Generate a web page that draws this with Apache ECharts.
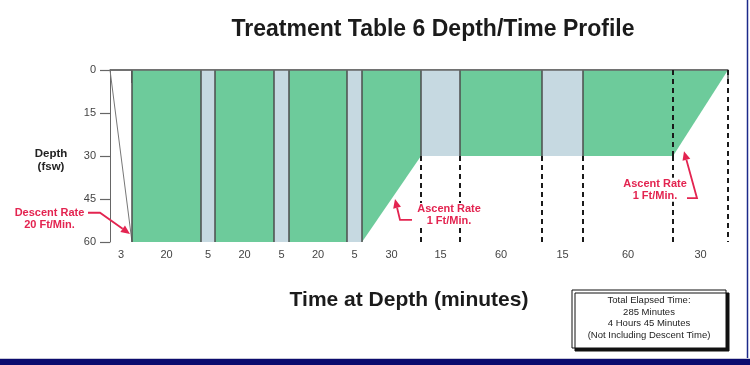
<!DOCTYPE html>
<html>
<head>
<meta charset="utf-8">
<script src="https://cdn.jsdelivr.net/npm/echarts@6/dist/echarts.min.js"></script>
<style>
  html, body { margin: 0; padding: 0; background: #fff; }
  #chart { width: 750px; height: 365px; }
</style>
</head>
<body>
<div id="chart"></div>
<script>
// Treatment Table 6 steps (time axis is drawn schematic, not to scale)
const segMinutes = [3, 20, 5, 20, 5, 20, 5, 30, 15, 60, 15, 60, 30];
// drawn span of each step along the schematic time axis
const segSpan = [22, 69, 14, 59, 15, 58, 15, 59, 39, 82, 41, 90, 55];
const segKind = ['descent', 'oxygen', 'air', 'oxygen', 'air', 'oxygen', 'air', 'ascent', 'air', 'oxygen', 'air', 'oxygen', 'ascent'];
const depthStart = [0, 60, 60, 60, 60, 60, 60, 60, 30, 30, 30, 30, 30];
const depthEnd = [60, 60, 60, 60, 60, 60, 60, 30, 30, 30, 30, 30, 0];
const depthTicks = [0, 15, 30, 45, 60];

// callouts, in axis units
const noteText = [['Descent Rate', '20 Ft/Min.'], ['Ascent Rate', '1 Ft/Min.'], ['Ascent Rate', '1 Ft/Min.']];
const noteAt = [[-60.5, 52], [339, 50.6], [545, 41.8]];
const notePath = [
  [[-22, 49.8], [-10, 49.8], [20, 57.2]],
  [[302, 52.3], [290, 52.3], [285, 45]],
  [[577, 44.7], [587, 44.7], [574, 28.3]]
];

const boxLines = ['Total Elapsed Time:', '285 Minutes', '4 Hours 45 Minutes', '(Not Including Descent Time)'];

const edges = [0];
segSpan.forEach(w => edges.push(edges[edges.length - 1] + w));
const centers = segSpan.map((w, i) => edges[i] + w / 2);

const GREEN = '#6dcb9b';
const AIR = '#c6d9e1';
const RED = '#e32450';
const FONT = '"Liberation Sans", Arial, sans-serif';

function fillOf(i) {
  if (segKind[i] === 'descent') return null;
  return segKind[i] === 'air' ? AIR : GREEN;
}

function seg(p, q, style, z2) {
  return { type: 'line', shape: { x1: p[0], y1: p[1], x2: q[0], y2: q[1] }, style: style, z2: z2 };
}

const solid = { stroke: '#4d4d4d', lineWidth: 1.5 };
const dashed = { stroke: '#1a1a1a', lineWidth: 2, lineDash: [5, 4] };

function renderProfile(params, api) {
  const i = api.value(0);
  const P = (x, d) => api.coord([x, d]);
  const x0 = edges[i], x1 = edges[i + 1];
  const kids = [];
  if (segKind[i] === 'descent') {
    kids.push(seg(P(x0, 0), P(x1, 60), { stroke: '#777', lineWidth: 1 }, 6));
  } else {
    kids.push({
      type: 'polygon',
      shape: { points: [P(x0, 0), P(x1, 0), P(x1, depthEnd[i]), P(x0, depthStart[i])] },
      style: { fill: fillOf(i) },
      z2: 1
    });
    const same = fillOf(i - 1) === fillOf(i);
    kids.push(seg(P(x0, 0), P(x0, depthStart[i]), same ? dashed : solid, same ? 8 : 6));
    if (depthStart[i] < 60) kids.push(seg(P(x0, depthStart[i]), P(x0, 60), dashed, 8));
    if (i === segKind.length - 1) kids.push(seg(P(x1, depthEnd[i]), P(x1, 60), dashed, 8));
  }
  kids.push(seg(P(x0, 0), P(x1, 0), { stroke: '#666', lineWidth: 1.5 }, 7));
  return { type: 'group', children: kids };
}

function renderNote(params, api) {
  const i = api.value(0);
  const pts = notePath[i].map(p => api.coord(p));
  const at = api.coord(noteAt[i]);
  const a = pts[pts.length - 2], b = pts[pts.length - 1];
  const ang = Math.atan2(b[1] - a[1], b[0] - a[0]);
  const len = 9, half = 4;
  const bx = b[0] - len * Math.cos(ang), by = b[1] - len * Math.sin(ang);
  const head = [
    b,
    [bx + half * Math.sin(ang), by - half * Math.cos(ang)],
    [bx - half * Math.sin(ang), by + half * Math.cos(ang)]
  ];
  const shaft = pts.slice(0, -1).concat([[bx, by]]);
  return {
    type: 'group',
    children: [
      { type: 'polyline', shape: { points: shaft }, style: { stroke: RED, lineWidth: 1.8, fill: null }, z2: 20 },
      { type: 'polygon', shape: { points: head }, style: { fill: RED }, z2: 20 },
      {
        type: 'text', z2: 19,
        style: {
          text: noteText[i].join('\n'), x: at[0], y: at[1],
          align: 'center', verticalAlign: 'middle', lineHeight: 12,
          fill: RED, font: 'bold 11px ' + FONT,
          backgroundColor: '#fff', padding: [0, 1]
        }
      }
    ]
  };
}

const chart = echarts.init(document.getElementById('chart'));

const option = {
  animation: false,
  backgroundColor: '#fff',
  grid: { left: 110, right: 22, top: 70, bottom: 123, outerBoundsMode: 'none' },
  xAxis: {
    type: 'value', min: 0, max: edges[edges.length - 1],
    splitLine: { show: false },
    axisLine: { lineStyle: { color: '#777', width: 1.5 } },
    axisTick: { show: true, length: 13, customValues: edges.slice(1), lineStyle: { color: '#555', width: 1.5 } },
    axisLabel: {
      customValues: centers, margin: 7, color: '#444', fontSize: 11, fontFamily: FONT,
      formatter: v => {
        const i = centers.findIndex(c => Math.abs(c - v) < 0.01);
        return i >= 0 ? String(segMinutes[i]) : '';
      }
    }
  },
  yAxis: {
    type: 'value', inverse: true, min: depthTicks[0], max: depthTicks[depthTicks.length - 1], interval: 15,
    splitLine: { show: false },
    axisLine: { show: true, lineStyle: { color: '#666', width: 1 } },
    axisTick: { show: true, length: 10, lineStyle: { color: '#666', width: 1.2 } },
    axisLabel: { margin: 14, color: '#444', fontSize: 11, fontFamily: FONT }
  },
  series: [
    {
      type: 'custom', name: 'profile', coordinateSystem: 'cartesian2d',
      data: segKind.map((k, i) => [i]),
      encode: { x: -1, y: -1 },
      renderItem: renderProfile
    },
    {
      type: 'custom', name: 'notes', coordinateSystem: 'cartesian2d',
      data: noteText.map((t, i) => [i]),
      encode: { x: -1, y: -1 },
      renderItem: renderNote, z: 5
    }
  ],
  graphic: [
    {
      type: 'text', x: 433, y: 30,
      style: { text: 'Treatment Table 6 Depth/Time Profile', align: 'center', verticalAlign: 'middle', fill: '#1b1b1b', font: 'bold 23px ' + FONT }
    },
    {
      type: 'text', x: 51, y: 160,
      style: { text: 'Depth\n(fsw)', align: 'center', verticalAlign: 'middle', lineHeight: 13, fill: '#222', font: 'bold 11.5px ' + FONT }
    },
    {
      type: 'text', x: 409, y: 300,
      style: { text: 'Time at Depth (minutes)', align: 'center', verticalAlign: 'middle', fill: '#1b1b1b', font: 'bold 21px ' + FONT }
    },
    {
      type: 'rect', shape: { x: 572, y: 290, width: 154, height: 58 },
      style: { fill: '#fff', stroke: '#111', lineWidth: 1, shadowColor: '#111', shadowOffsetX: 3, shadowOffsetY: 3, shadowBlur: 0 }
    },
    {
      type: 'text', x: 649, y: 318,
      style: { text: boxLines.join('\n'), align: 'center', verticalAlign: 'middle', lineHeight: 11.5, fill: '#222', font: '9.5px ' + FONT }
    },
    { type: 'line', shape: { x1: 747.5, y1: 0, x2: 747.5, y2: 359 }, style: { stroke: '#1c2a8a', lineWidth: 1.5 } },
    { type: 'line', shape: { x1: 0, y1: 358.5, x2: 750, y2: 358.5 }, style: { stroke: '#c8c8d8', lineWidth: 1 } },
    { type: 'rect', shape: { x: 0, y: 359, width: 750, height: 6 }, style: { fill: '#0b0b6e' } }
  ]
};

chart.setOption(option);
window.addEventListener('resize', function () {
  chart.resize();
});
</script>
</body>
</html>
